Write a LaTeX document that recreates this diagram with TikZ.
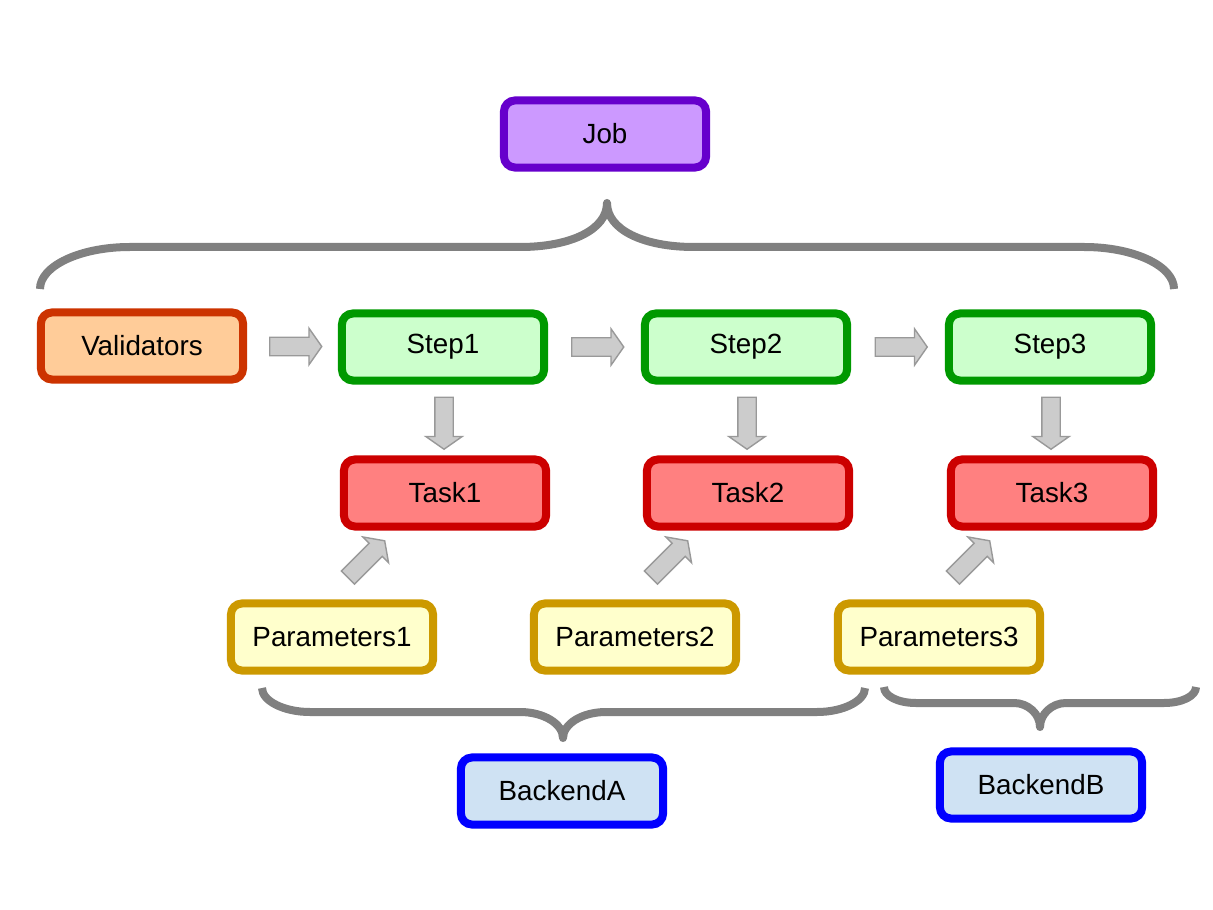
\documentclass[tikz,border=0pt]{standalone}
\usepackage{fontspec}
\setmainfont{Liberation Sans}
\usetikzlibrary{shapes.arrows,calc}
\definecolor{jobfill}{HTML}{CC99FF}
\definecolor{jobline}{HTML}{6600CC}
\definecolor{valfill}{HTML}{FFCC99}
\definecolor{valline}{HTML}{CC3300}
\definecolor{stepfill}{HTML}{CCFFCC}
\definecolor{stepline}{HTML}{009900}
\definecolor{taskfill}{HTML}{FF8080}
\definecolor{taskline}{HTML}{CC0000}
\definecolor{parfill}{HTML}{FFFFCC}
\definecolor{parline}{HTML}{CC9900}
\definecolor{backfill}{HTML}{CFE2F3}
\definecolor{backline}{HTML}{0000FF}
\definecolor{arrowfill}{HTML}{CCCCCC}
\definecolor{arrowline}{HTML}{999999}
\definecolor{bracegray}{HTML}{808080}
\tikzset{
	box/.style={draw, rounded corners=0.11cm, line width=0.08cm, minimum width=2.02cm, minimum height=0.67cm, inner sep=0pt, font=\fontsize{7.9}{9}\selectfont},
	jobbox/.style={box, draw=jobline, fill=jobfill},
	valbox/.style={box, draw=valline, fill=valfill},
	stepbox/.style={box, draw=stepline, fill=stepfill},
	taskbox/.style={box, draw=taskline, fill=taskfill},
	parbox/.style={box, draw=parline, fill=parfill},
	backbox/.style={box, draw=backline, fill=backfill},
	flow/.style={single arrow, draw=arrowline, fill=arrowfill, line width=0.4pt, inner sep=0.085cm, minimum height=0.52cm, single arrow head extend=0.09cm, single arrow tip angle=110},
	bracket/.style={draw=bracegray, line width=0.08cm, line join=round}
}
\begin{document}
\begin{tikzpicture}[x=0.01cm,y=-0.01cm]
				\useasboundingbox (0,0) rectangle (1213,910);
				% boxes
				\node[jobbox] (job) at (605,134) {Job};
				\node[valbox] (val) at (142,346) {Validators};
				\node[stepbox] (s1) at (443,347) {Step1};
				\node[stepbox] (s2) at (746,347) {Step2};
				\node[stepbox] (s3) at (1050,347) {Step3};
				\node[taskbox] (t1) at (445,493) {Task1};
				\node[taskbox] (t2) at (748,493) {Task2};
				\node[taskbox] (t3) at (1052,493) {Task3};
				\node[parbox] (p1) at (332,637) {Parameters1};
				\node[parbox] (p2) at (635,637) {Parameters2};
				\node[parbox] (p3) at (939,637) {Parameters3};
				\node[backbox] (ba) at (562,791) {BackendA};
				\node[backbox] (bb) at (1041,785) {BackendB};
				% arrows
				\node[flow] at ($(val.east)!0.5!(s1.west)$) {};
				\node[flow] at ($(s1.east)!0.5!(s2.west)$) {};
				\node[flow] at ($(s2.east)!0.5!(s3.west)$) {};
				\node[flow, rotate=-90] at ($(s1.south)!0.5!(t1.north)$) {};
				\node[flow, rotate=-90] at ($(s2.south)!0.5!(t2.north)$) {};
				\node[flow, rotate=-90] at ($(s3.south)!0.5!(t3.north)$) {};
				\node[flow, rotate=45] at ($(p1.north)+(32,-38)$) {};
				\node[flow, rotate=45] at ($(p2.north)+(32,-38)$) {};
				\node[flow, rotate=45] at ($(p3.north)+(30,-38)$) {};
				% braces
				\draw[bracket] (40,289) .. controls (40,266) and (80,247) .. (130,247) -- (520,247)
					.. controls (570,247) and (607,230) .. (607,203)
					.. controls (607,230) and (644,247) .. (694,247) -- (1084,247)
					.. controls (1134,247) and (1174,266) .. (1174,289);
				\draw[bracket] (262,688) .. controls (262,701) and (284,712) .. (310,712) -- (520,712)
					.. controls (544,712) and (563,724) .. (563,738)
					.. controls (563,724) and (582,712) .. (606,712) -- (817,712)
					.. controls (843,712) and (865,701) .. (865,688);
				\draw[bracket] (884,687) .. controls (884,696) and (898,703) .. (916,703) -- (1014,703)
					.. controls (1028,703) and (1040,714) .. (1040,727)
					.. controls (1040,714) and (1052,703) .. (1066,703) -- (1164,703)
					.. controls (1182,703) and (1196,696) .. (1196,687);
			\end{tikzpicture}
\end{document}
